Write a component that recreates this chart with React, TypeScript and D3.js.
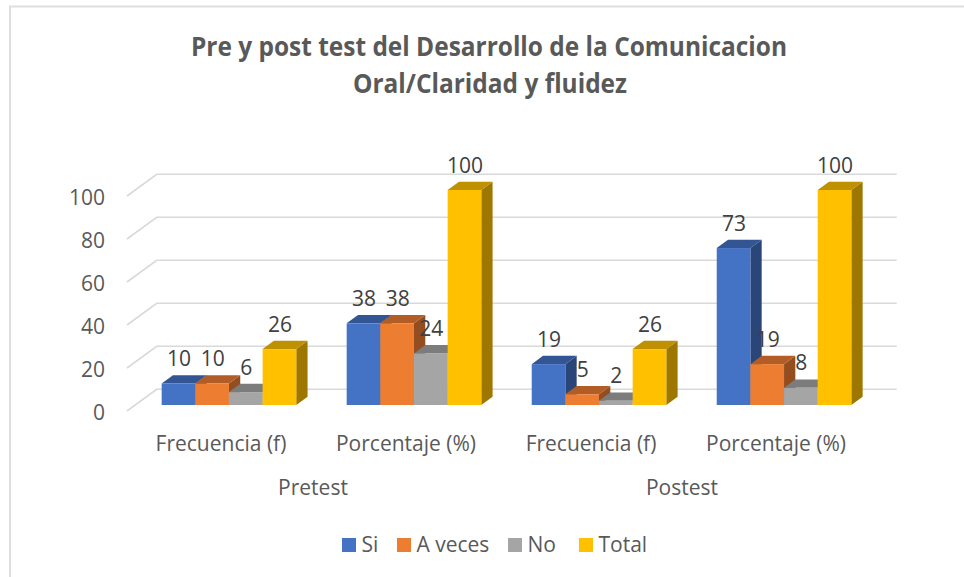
import React from 'react';
import * as d3 from 'd3';

const categories = ['Frecuencia (f)', 'Porcentaje (%)', 'Frecuencia (f)', 'Porcentaje (%)'];
const groups = ['Pretest', 'Postest'];
const seriesNames = ['Si', 'A veces', 'No', 'Total'];
const siValues = [10, 38, 19, 73];
const aVecesValues = [10, 38, 5, 19];
const noValues = [6, 24, 2, 8];
const totalValues = [26, 100, 26, 100];
const yTicks = [0, 20, 40, 60, 80, 100];

const seriesValues = [siValues, aVecesValues, noValues, totalValues];
const front = ['#4472c4', '#ed7d31', '#a5a5a5', '#ffc000'];
const top = ['#335593', '#b25d25', '#7c7c7c', '#bf9000'];
const side = ['#2a4679', '#934d1e', '#666666', '#9e7700'];
const legendX = [342, 397, 508, 579];

const font = '"Open Sans", sans-serif';
const depthX = 11.3;
const depthY = 8.3;

const x0 = d3.scaleBand<number>().domain([0, 1, 2, 3]).range([136.5, 876.5]).paddingInner(0.2725).paddingOuter(0.136);
const x1 = d3.scaleBand<number>().domain([0, 1, 2, 3]).range([0, x0.bandwidth()]);
const yBar = d3.scaleLinear().domain([0, 100]).range([405, 190]);
const yBack = d3.scaleLinear().domain([0, 100]).range([389.3, 174.3]);
const yWall = d3.scaleLinear().domain([0, 100]).range([411, 196]);

const box = d3.line();

function Bar({ x, w, y, base, i }: { x: number; w: number; y: number; base: number; i: number }) {
  const topFace = box([[x, y], [x + depthX, y - depthY], [x + w + depthX, y - depthY], [x + w, y]]);
  const sideFace = box([[x + w, y], [x + w + depthX, y - depthY], [x + w + depthX, base - depthY], [x + w, base]]);
  return (
    <g>
      <path d={sideFace + 'Z'} fill={side[i]} />
      <path d={topFace + 'Z'} fill={top[i]} />
      <rect x={x} y={y} width={w} height={base - y} fill={front[i]} />
    </g>
  );
}

export default function App() {
  const w = x1.bandwidth();
  return (
    <svg width={964} height={577} style={{ position: 'absolute', left: 0, top: 0, background: '#fff' }}>
      <rect x={10} y={6.5} width={970} height={590} fill="#fff" stroke="#dedede" strokeWidth={2} />
      <g fontFamily={font} fontSize={26} fontWeight={700} fill="#595959" textAnchor="middle">
        <text x={489} y={56} textLength={596} lengthAdjust="spacingAndGlyphs">Pre y post test del Desarrollo de la Comunicacion</text>
        <text x={490} y={93} textLength={274} lengthAdjust="spacingAndGlyphs">Oral/Claridad y fluidez</text>
      </g>

      {yTicks.map(t => (
        <g key={t}>
          <path
            d={box([[127, yWall(t)], [156.7, yBack(t)], [896.7, yBack(t)]]) as string}
            fill="none"
            stroke="#d9d9d9"
            strokeWidth={1.6}
          />
          <text x={105} y={yWall(t) + 1} dy="0.36em" textAnchor="end" fontFamily={font} fontSize={21} fill="#595959">
            {t}
          </text>
        </g>
      ))}

      {categories.map((c, ci) => (
        <g key={ci}>
          {seriesValues.map((vals, si) => (
            <Bar key={si} x={(x0(ci) as number) + (x1(si) as number)} w={w} y={yBar(vals[ci])} base={yBar(0)} i={si} />
          ))}
          <text x={(x0(ci) as number) + x0.bandwidth() / 2 - 8} y={451} textAnchor="middle" fontFamily={font} fontSize={21} fill="#595959">
            {c}
          </text>
        </g>
      ))}

      {categories.map((c, ci) =>
        seriesValues.map((vals, si) => (
          <text
            key={c + ci + si}
            x={(x0(ci) as number) + (x1(si) as number) + w / 2 + 0.5}
            y={yBar(vals[ci]) - 25}
            dy="0.36em"
            textAnchor="middle"
            fontFamily={font}
            fontSize={21}
            fill="#404040"
          >
            {vals[ci]}
          </text>
        ))
      )}

      {groups.map((g, i) => (
        <text key={g} x={313 + i * 369} y={495} textAnchor="middle" fontFamily={font} fontSize={21} fill="#595959">
          {g}
        </text>
      ))}

      {seriesNames.map((s, i) => (
        <g key={s}>
          <rect x={legendX[i]} y={538} width={14} height={14} fill={front[i]} />
          <text x={legendX[i] + 19.5} y={552} fontFamily={font} fontSize={21} fill="#595959">
            {s}
          </text>
        </g>
      ))}
    </svg>
  );
}
